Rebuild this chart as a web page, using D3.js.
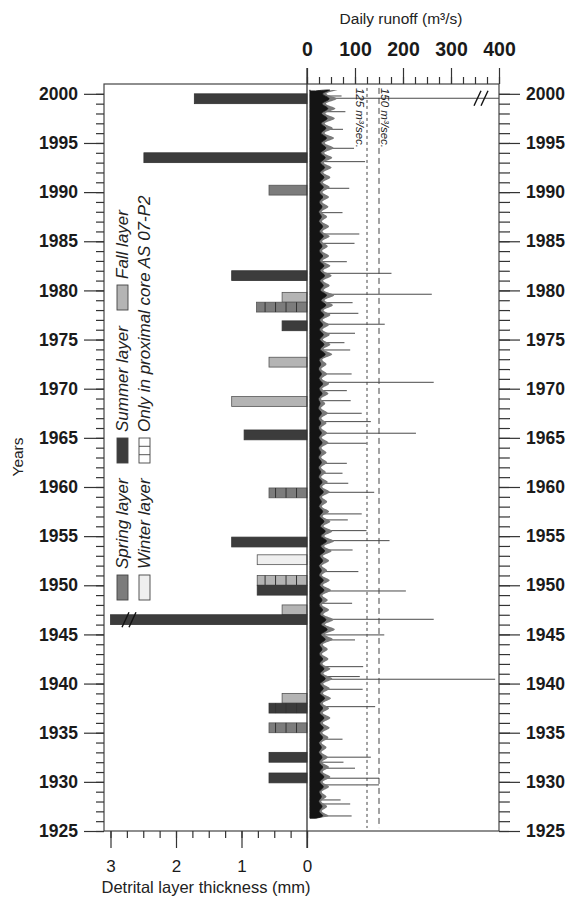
<!DOCTYPE html>
<html>
<head>
<meta charset="utf-8">
<script src="https://cdn.jsdelivr.net/npm/d3@7"></script>
<style>
  body { margin: 0; background: #fff; }
  svg { font-family: "Liberation Sans", Arial, sans-serif; }
  .tick text { font-family: "Liberation Sans", Arial, sans-serif; }
</style>
</head>
<body>
<div id="chart"></div>
<script>
const ancho = 569
const alto = 905
const marco = { izq: 104, der: 499, sup: 84, inf: 831 }
const cero = 307

// detrital layers (centre year, thickness in mm, season, only in proximal core)
const barYears = [1999.5, 1993.5, 1990.2, 1981.5, 1979.3, 1978.3, 1976.4, 1972.7, 1968.7, 1965.3,
  1959.4, 1954.4, 1952.6, 1950.5, 1949.5, 1947.5, 1946.5, 1938.5, 1937.5, 1935.5, 1932.5, 1930.4]
const barThickness = [1.72, 2.49, 0.58, 1.15, 0.38, 0.77, 0.38, 0.58, 1.15, 0.96,
  0.58, 1.15, 0.76, 0.76, 0.76, 0.38, 3.0, 0.38, 0.58, 0.58, 0.58, 0.58]
const barSeason = ["summer", "summer", "spring", "summer", "fall", "spring", "summer", "fall", "fall", "summer",
  "spring", "summer", "winter", "fall", "summer", "fall", "summer", "fall", "summer", "spring", "summer", "summer"]
const barProximal = [false, false, false, false, false, true, false, false, false, false,
  true, false, false, true, false, false, false, false, true, true, false, false]
const brokenBarYear = 1946.5

// daily runoff: per year typical summer flow and upper summer flow, base flow, single peaks
const runoffYears = d3.range(1926, 2001)
const summerFlow = [
  40, 38, 36, 42, 44, 40, 38, 36, 40, 42,   // 1926-1935
  44, 40, 46, 42, 48, 44, 40, 38, 48, 54,   // 1936-1945
  50, 40, 38, 44, 42, 36, 40, 46, 52, 48,   // 1946-1955
  44, 40, 36, 42, 38, 34, 36, 34, 38, 36,   // 1956-1965
  34, 36, 32, 38, 40, 36, 34, 48, 44, 42,   // 1966-1975
  40, 44, 50, 52, 42, 46, 44, 40, 38, 42,   // 1976-1985
  40, 36, 38, 40, 42, 44, 46, 48, 50, 52,   // 1986-1995
  50, 54, 56, 60, 62                        // 1996-2000
]
const summerHigh = [
  58, 54, 52, 60, 64, 60, 56, 52, 58, 62,   // 1926-1935
  64, 60, 66, 62, 70, 64, 58, 56, 72, 78,   // 1936-1945
  74, 60, 56, 66, 62, 54, 60, 68, 76, 70,   // 1946-1955
  64, 60, 54, 62, 56, 50, 54, 52, 58, 54,   // 1956-1965
  52, 56, 48, 58, 60, 54, 52, 70, 64, 62,   // 1966-1975
  60, 64, 72, 76, 62, 68, 64, 60, 56, 62,   // 1976-1985
  60, 54, 58, 60, 62, 64, 68, 70, 74, 76,   // 1986-1995
  72, 78, 80, 84, 86                        // 1996-2000
]
const winterFlow = 18
const baseFlow = 6
const peakYears = [1999.55, 1999.78, 1998.18, 1996.39, 1994.46, 1993.10, 1990.39, 1987.91, 1985.74, 1984.79,
  1982.92, 1981.74, 1979.61, 1978.75, 1977.67, 1976.56, 1975.64, 1974.68, 1973.94, 1971.50,
  1970.65, 1969.80, 1968.78, 1967.50, 1966.65, 1965.47, 1964.45, 1962.41, 1961.40, 1960.38,
  1959.46, 1957.26, 1956.65, 1955.56, 1954.54, 1953.59, 1951.39, 1949.42, 1948.17, 1946.54,
  1944.95, 1944.44, 1941.72, 1940.71, 1940.44, 1939.42, 1937.65, 1934.34, 1932.51, 1932.00,
  1931.39, 1930.37, 1929.69, 1928.16, 1927.75, 1926.53]
const peakFlow = [420, 72, 80, 75, 98, 121, 88, 74, 109, 99,
  83, 176, 260, 95, 107, 162, 100, 78, 90, 93,
  264, 83, 91, 114, 133, 227, 124, 83, 74, 86,
  140, 114, 85, 124, 172, 95, 107, 206, 94, 264,
  161, 100, 117, 110, 392, 116, 142, 74, 133, 76,
  100, 150, 150, 70, 90, 93]
const brokenPeakYear = 1999.55

const thresholds = [125, 150]
const thresholdLabels = ["125 m³/sec.", "150 m³/sec."]

const seasonNames = ["spring", "summer", "fall", "winter", "proximal"]
const seasonLabels = ["Spring layer", "Summer layer", "Fall layer", "Winter layer", "Only in proximal core  AS 07-P2"]
const seasonColors = { spring: "#7c7c7c", summer: "#3c3c3c", fall: "#b4b4b4", winter: "#efefef", proximal: "#ffffff" }

const yearMajor = d3.range(1925, 2001, 5)
const yearMinor = d3.range(1925, 2001, 1)
const runoffMajor = [0, 100, 200, 300, 400]
const runoffMinor = d3.range(0, 401, 25)
const thickMajor = [0, 1, 2, 3]
const thickMinor = d3.range(0, 3.01, 0.25)

const svg = d3.select("#chart").append("svg")
  .attr("width", ancho)
  .attr("height", alto)

// escalas
const y = d3.scaleLinear().domain([1925, 2001]).range([marco.inf, marco.sup])
const xT = d3.scaleLinear().domain([0, 3]).range([cero, 110.5])
const xR = d3.scaleLinear().domain([0, 400]).range([cero, marco.der])
const bandH = y(1925) - y(1926)

// marco
svg.append("rect")
  .attr("x", marco.izq).attr("y", marco.sup)
  .attr("width", marco.der - marco.izq).attr("height", marco.inf - marco.sup)
  .attr("fill", "none").attr("stroke", "#444").attr("stroke-width", 1.2)

// peaks (drawn first, the band covers their base)
svg.append("g").selectAll("line")
  .data(peakYears.map((yr, i) => ({ yr, q: Math.min(peakFlow[i], 400) })))
  .join("line")
  .attr("x1", xR(baseFlow))
  .attr("x2", d => xR(d.q))
  .attr("y1", d => y(d.yr)).attr("y2", d => y(d.yr))
  .attr("stroke", "#4a4a4a").attr("stroke-width", 1)

// runoff band: grey fringe of summer highs, then the dense core
function bandPoints(vals) {
  const pts = [[1926.3, winterFlow]]
  runoffYears.forEach((yr, i) => {
    if (yr > 1926) pts.push([yr, winterFlow])
    pts.push([yr + 0.5, vals[i]])
  })
  pts.push([2000.3, winterFlow])
  return pts
}
const area = d3.area()
  .y(d => y(d[0]))
  .x0(xR(baseFlow))
  .x1(d => xR(d[1]))
  .curve(d3.curveBasis)
svg.append("path").datum(bandPoints(summerHigh))
  .attr("d", area)
  .attr("fill", "#7a7a7a")
svg.append("path").datum(bandPoints(summerFlow))
  .attr("d", area)
  .attr("fill", "#141414")
  .attr("stroke", "#141414").attr("stroke-width", 0.8)

// dashed thresholds
svg.append("g").selectAll("line")
  .data(thresholds)
  .join("line")
  .attr("x1", d => xR(d)).attr("x2", d => xR(d))
  .attr("y1", y(2000.6)).attr("y2", y(1925.3))
  .attr("stroke", "#444").attr("stroke-width", 1)
  .attr("stroke-dasharray", (d, i) => i === 0 ? "3,3" : "6,4")

svg.append("g").selectAll("text")
  .data(thresholds)
  .join("text")
  .attr("transform", (d, i) => `translate(${xR(d) + (i === 0 ? -11 : 2)},${y(2000.6)}) rotate(90)`)
  .attr("font-size", 11.5)
  .attr("font-style", "italic")
  .attr("fill", "#222")
  .text((d, i) => thresholdLabels[i])

// bars
const bars = svg.append("g")
barYears.forEach((yr, i) => {
  const s = barSeason[i]
  const x0 = xT(barThickness[i])
  bars.append("rect")
    .attr("x", x0).attr("y", y(yr) - bandH / 2)
    .attr("width", cero - x0).attr("height", bandH)
    .attr("fill", seasonColors[s])
    .attr("stroke", s === "summer" ? "#333" : "#555").attr("stroke-width", 0.8)
  if (barProximal[i]) {
    d3.range(0.16, barThickness[i] - 0.05, 0.16).forEach(v => {
      bars.append("line")
        .attr("x1", xT(v)).attr("x2", xT(v))
        .attr("y1", y(yr) - bandH / 2).attr("y2", y(yr) + bandH / 2)
        .attr("stroke", "#333").attr("stroke-width", 1)
    })
  }
})

// break marks
function breakMark(cx, cy) {
  [-3.5, 3.5].forEach(dx => {
    svg.append("line")
      .attr("x1", cx + dx - 3.5).attr("y1", cy + 7.5)
      .attr("x2", cx + dx + 3.5).attr("y2", cy - 7.5)
      .attr("stroke", "#111").attr("stroke-width", 1.4)
  })
}
breakMark(129, y(brokenBarYear))
breakMark(481, y(brokenPeakYear))

// zero line
svg.append("line")
  .attr("x1", cero).attr("x2", cero)
  .attr("y1", marco.sup - 16).attr("y2", marco.inf + 17)
  .attr("stroke", "#333").attr("stroke-width", 1.3)

// ejes
function eje(gen, scale, vals, size, pad, font, tr) {
  const g = svg.append("g").attr("transform", tr)
    .call(gen(scale).tickValues(vals).tickSize(size).tickPadding(pad)
      .tickFormat(font ? d3.format("d") : () => ""))
  g.select(".domain").remove()
  g.selectAll(".tick line").attr("stroke", "#333").attr("stroke-width", 1.2)
  if (font) g.selectAll(".tick text").attr("fill", "#1a1a1a")
    .attr("font-size", font.size).attr("font-weight", font.weight)
  return g
}
const fYears = { size: 17.5, weight: "bold" }
eje(d3.axisLeft, y, yearMinor, 8, 0, null, `translate(${marco.izq},0)`)
eje(d3.axisLeft, y, yearMajor, 20, 6, fYears, `translate(${marco.izq},0)`)
eje(d3.axisRight, y, yearMinor, 11, 0, null, `translate(${marco.der},0)`)
eje(d3.axisRight, y, yearMajor, 21, 6, fYears, `translate(${marco.der},0)`)
eje(d3.axisTop, xR, runoffMinor, 7, 0, null, `translate(0,${marco.sup})`)
eje(d3.axisTop, xR, runoffMajor, 16, 12, { size: 19.5, weight: "bold" }, `translate(0,${marco.sup})`)
eje(d3.axisBottom, xT, thickMinor, 7, 0, null, `translate(0,${marco.inf})`)
eje(d3.axisBottom, xT, thickMajor, 17, 12, { size: 17, weight: "normal" }, `translate(0,${marco.inf})`)

// titulos
svg.append("text").attr("x", 401).attr("y", 24)
  .attr("text-anchor", "middle").attr("font-size", 15.5).attr("fill", "#222")
  .text("Daily runoff (m³/s)")
svg.append("text").attr("x", 206).attr("y", 893)
  .attr("text-anchor", "middle").attr("font-size", 16.5).attr("fill", "#222")
  .text("Detrital layer thickness (mm)")
svg.append("text").attr("transform", `translate(23,457) rotate(-90)`)
  .attr("text-anchor", "middle").attr("font-size", 15.5).attr("fill", "#222")
  .text("Years")

// leyenda
const legX = [117, 117, 117, 139, 139]
const legY = [600, 463, 310, 600, 463]
seasonNames.forEach((s, i) => {
  const g = svg.append("g")
  g.append("rect")
    .attr("x", legX[i]).attr("y", legY[i] - 25)
    .attr("width", 11).attr("height", 25)
    .attr("fill", seasonColors[s]).attr("stroke", "#444").attr("stroke-width", 0.9)
  if (s === "proximal") {
    [legY[i] - 8.3, legY[i] - 16.7].forEach(v => {
      g.append("line").attr("x1", legX[i]).attr("x2", legX[i] + 11)
        .attr("y1", v).attr("y2", v).attr("stroke", "#444").attr("stroke-width", 0.9)
    })
  }
  g.append("text")
    .attr("transform", `translate(${legX[i] + 11},${legY[i] - 31}) rotate(-90)`)
    .attr("font-size", 17).attr("font-style", "italic").attr("fill", "#222")
    .text(seasonLabels[i])
})
</script>
</body>
</html>
